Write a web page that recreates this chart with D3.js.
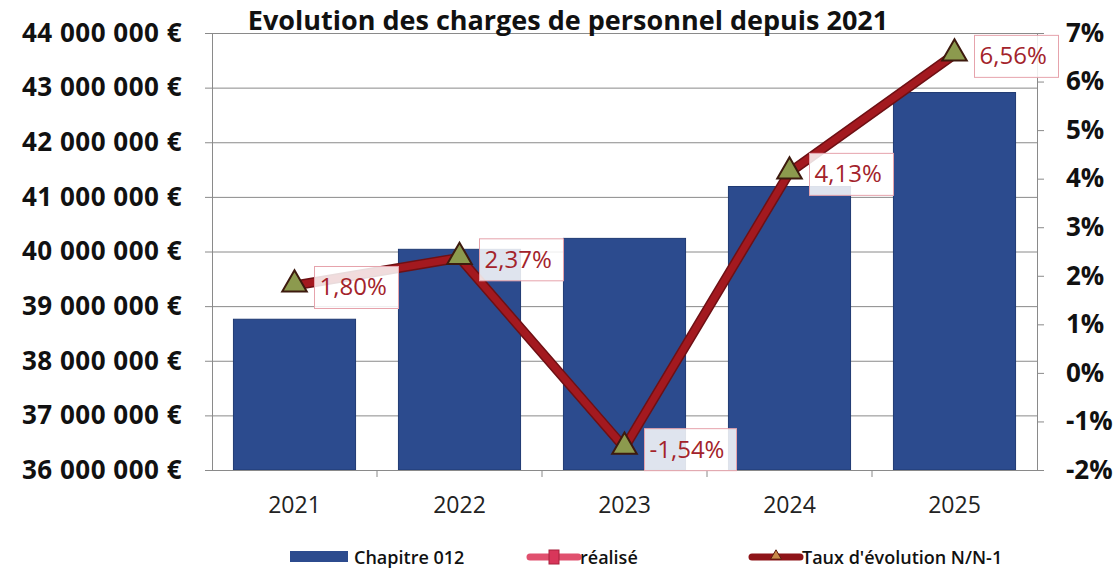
<!DOCTYPE html>
<html lang="fr">
<head>
<meta charset="UTF-8">
<title>Evolution des charges de personnel</title>
<script src="https://d3js.org/d3.v7.min.js"></script>
<style>
  body { margin: 0; background: #fff; }
  text { font-family: "Open Sans", "Noto Sans", sans-serif; }
</style>
</head>
<body>
<script>
// Données
const annees = ["2021", "2022", "2023", "2024", "2025"];
const chapitre012 = [38760000, 40040000, 40240000, 41190000, 42910000];
const tauxEvolution = [1.80, 2.37, -1.54, 4.13, 6.56];
const tauxLabels = ["1,80%", "2,37%", "-1,54%", "4,13%", "6,56%"];
const montantTicks = [36e6, 37e6, 38e6, 39e6, 40e6, 41e6, 42e6, 43e6, 44e6];
const tauxTicks = [-2, -1, 0, 1, 2, 3, 4, 5, 6, 7];

const W = 1119, H = 568;
const m = { left: 212, right: 1037, top: 33, bottom: 470 };

const svg = d3.select("body").append("svg")
  .attr("width", W).attr("height", H);

const x = d3.scaleBand().domain(annees).range([m.left, m.right]).paddingInner(0.26).paddingOuter(0.13);
const xCat = d3.scaleBand().domain(annees).range([m.left, m.right]);
const y = d3.scaleLinear().domain([36e6, 44e6]).range([m.bottom, m.top]);
const y2 = d3.scaleLinear().domain([-2, 7]).range([m.bottom, m.top]);

// quadrillage + axe gauche
const fmtEuro = d => d3.format(",")(d).replace(/,/g, " ") + " €";
const axeG = svg.append("g").attr("transform", `translate(${m.left},0)`)
  .call(d3.axisLeft(y).tickValues(montantTicks).tickSize(-(m.right - m.left)).tickSizeOuter(0).tickPadding(30).tickFormat(fmtEuro));
axeG.select(".domain").attr("stroke", "#8a8a8a");
axeG.selectAll(".tick line").attr("stroke", "#8a8a8a").attr("stroke-width", 1)
  .attr("x1", -7);
axeG.selectAll(".tick text")
  .attr("font-size", 26).attr("font-weight", 700).attr("letter-spacing", 0.5).attr("fill", "#111");

// barres
svg.append("g").selectAll("rect").data(chapitre012).join("rect")
  .attr("x", (d, i) => x(annees[i]))
  .attr("width", x.bandwidth())
  .attr("y", d => y(d))
  .attr("height", d => y(36e6) - y(d))
  .attr("fill", "#2c4b8e")
  .attr("stroke", "#1f3a73").attr("stroke-width", 1);

// axe des x
const axeX = svg.append("g").attr("transform", `translate(0,${m.bottom})`)
  .call(d3.axisBottom(xCat).tickSize(0).tickPadding(27));
axeX.select(".domain").attr("stroke", "#8a8a8a");
axeX.selectAll(".tick text").attr("font-size", 23).attr("fill", "#222");
svg.append("g").selectAll("line").data(annees.slice(1)).join("line")
  .attr("x1", d => xCat(d)).attr("x2", d => xCat(d))
  .attr("y1", m.bottom).attr("y2", m.bottom + 7)
  .attr("stroke", "#8a8a8a");

// axe droit
const axeD = svg.append("g").attr("transform", `translate(${m.right},0)`)
  .call(d3.axisRight(y2).tickValues(tauxTicks).tickSize(7).tickSizeOuter(0).tickPadding(22).tickFormat(d => d + "%"));
axeD.select(".domain").attr("stroke", "#8a8a8a");
axeD.selectAll(".tick line").attr("stroke", "#8a8a8a");
axeD.selectAll(".tick text")
  .attr("font-size", 26).attr("font-weight", 700).attr("fill", "#111");

// ligne du taux d'évolution
const ligne = d3.line()
  .x((d, i) => xCat(annees[i]) + xCat.bandwidth() / 2)
  .y(d => y2(d));
svg.append("path").datum(tauxEvolution)
  .attr("d", ligne).attr("fill", "none")
  .attr("stroke", "#6e1014").attr("stroke-width", 10).attr("stroke-linejoin", "round");
svg.append("path").datum(tauxEvolution)
  .attr("d", ligne).attr("fill", "none")
  .attr("stroke", "#a3191f").attr("stroke-width", 7).attr("stroke-linejoin", "round");

const tri = d3.symbol().type(d3.symbolTriangle).size(260);
svg.append("g").selectAll("path").data(tauxEvolution).join("path")
  .attr("transform", (d, i) => `translate(${xCat(annees[i]) + xCat.bandwidth() / 2},${y2(d) - 1})`)
  .attr("d", tri)
  .attr("fill", "#8c9a4e").attr("stroke", "#3d1a0e").attr("stroke-width", 2);

// étiquettes de données
const etiq = svg.append("g").selectAll("g").data(tauxEvolution).join("g")
  .attr("transform", (d, i) => `translate(${xCat(annees[i]) + xCat.bandwidth() / 2 + 20},${y2(d) + 2})`);
etiq.append("rect")
  .attr("x", 0).attr("y", -21)
  .attr("width", (d, i) => tauxLabels[i].length > 5 ? 92 : 84).attr("height", 42)
  .attr("fill", "rgba(255,255,255,0.85)")
  .attr("stroke", "#e6a3ac").attr("stroke-width", 1);
etiq.append("text")
  .attr("x", 5).attr("y", 8)
  .attr("font-size", 24).attr("fill", "#a3232b")
  .text((d, i) => tauxLabels[i]);

// titre
svg.append("text")
  .attr("x", 568).attr("y", 30).attr("text-anchor", "middle")
  .attr("font-size", 27).attr("font-weight", 700).attr("fill", "#111")
  .text("Evolution des charges de personnel depuis 2021");

// légende
const leg = svg.append("g").attr("transform", "translate(0,557)");
leg.append("rect").attr("x", 290).attr("y", -6).attr("width", 58).attr("height", 11).attr("fill", "#2c4b8e");
leg.append("text").attr("x", 354).attr("y", 7).attr("font-size", 18).attr("font-weight", 600).attr("fill", "#111").text("Chapitre 012");

leg.append("line").attr("x1", 530).attr("x2", 578).attr("y1", 0).attr("y2", 0)
  .attr("stroke", "#e0506e").attr("stroke-width", 7).attr("stroke-linecap", "round");
leg.append("rect").attr("x", 549).attr("y", -7).attr("width", 10).attr("height", 14)
  .attr("fill", "#d8365a").attr("stroke", "#a8203c");
leg.append("text").attr("x", 580).attr("y", 7).attr("font-size", 18).attr("font-weight", 600).attr("fill", "#111").text("réalisé");

leg.append("line").attr("x1", 752).attr("x2", 800).attr("y1", 0).attr("y2", 0)
  .attr("stroke", "#8e1418").attr("stroke-width", 7).attr("stroke-linecap", "round");
leg.append("path").attr("transform", "translate(776,-1)")
  .attr("d", d3.symbol().type(d3.symbolTriangle).size(50))
  .attr("fill", "#c98a4a").attr("stroke", "#5a1a0e");
leg.append("text").attr("x", 802).attr("y", 7).attr("font-size", 18).attr("font-weight", 600).attr("fill", "#111").text("Taux d'évolution N/N-1");
</script>
</body>
</html>
